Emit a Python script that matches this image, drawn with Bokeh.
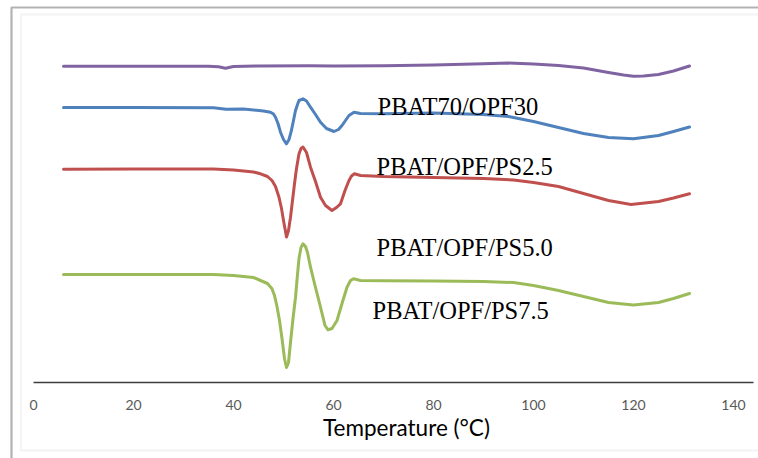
from bokeh.plotting import figure
from bokeh.models import Range1d, FixedTicker, BoxAnnotation, ColumnDataSource, LinearAxis
from bokeh.core.properties import value
from bokeh.embed import file_html
from bokeh.resources import INLINE

# ---- data (temperature in °C, heat flow in arbitrary units, curves offset) ----
t_ref = [6, 20, 35, 37, 38.4, 40, 45, 55, 60, 70, 80, 90, 95, 100, 105, 110, 115, 118, 120, 122, 125, 128, 131.2]
y_ref = [31.63, 31.63, 31.63, 31.57, 31.43, 31.60, 31.66, 31.68, 31.64, 31.67, 31.74, 31.88, 31.94,
         31.86, 31.70, 31.44, 31.00, 30.75, 30.63, 30.65, 30.80, 31.15, 31.65]

t_ps0 = [6, 20, 36, 38.5, 42, 46, 47.4, 48.0, 48.4, 48.9, 49.4, 50.0, 50.6, 51.1, 51.5, 52.0, 52.4,
         52.8, 53.1, 53.9, 54.6, 55.4, 56.4, 57.4, 58.6, 60.1, 61.0, 61.7, 62.4, 63.1, 64.1, 65.4,
         70, 80, 90, 95, 100, 105, 110, 115, 120, 125, 128, 131.2]
y_ps0 = [27.50, 27.50, 27.47, 27.33, 27.35, 27.15, 27.03, 26.85, 26.53, 25.90, 25.03, 24.30, 23.87,
         24.30, 25.03, 26.20, 27.20, 27.80, 28.20, 28.37, 28.15, 27.53, 26.80, 26.03, 25.40, 25.10,
         25.30, 25.70, 26.20, 26.70, 27.03, 26.90, 26.88, 26.95, 26.80, 26.60, 26.10, 25.50, 24.90,
         24.50, 24.37, 24.70, 25.10, 25.55]

t_ps25 = [6, 20, 36, 40, 44, 45.4, 46.8, 47.7, 48.4, 49.1, 49.6, 50.0, 50.6, 51.0, 51.4, 51.8, 52.2,
          52.6, 53.1, 53.5, 53.9, 54.6, 55.4, 56.4, 57.4, 58.4, 59.7, 60.6, 61.4, 62.3, 63.1, 63.6,
          64.2, 65.4, 70, 80, 90, 96, 100, 105, 110, 115, 119.5, 125, 128, 131.2]
y_ps25 = [21.33, 21.35, 21.35, 21.25, 21.05, 20.87, 20.60, 20.20, 19.60, 18.53, 17.40, 16.20, 14.55,
          15.20, 16.53, 18.20, 19.87, 21.40, 22.87, 23.40, 23.55, 23.00, 21.53, 20.10, 18.53, 17.70,
          17.20, 17.50, 17.87, 19.20, 20.20, 20.65, 20.87, 20.70, 20.60, 20.50, 20.40, 20.25, 20.00,
          19.60, 18.90, 18.20, 17.80, 18.10, 18.45, 18.87]

t_ps75 = [6, 20, 36, 40, 44, 45.4, 46.8, 47.7, 48.2, 48.7, 49.2, 49.7, 50.2, 50.6, 51.0, 51.4, 51.9,
          52.4, 52.8, 53.1, 53.5, 53.9, 54.4, 54.8, 55.4, 56.4, 57.4, 58.3, 58.9, 59.7, 60.7, 61.7,
          62.7, 63.4, 64.0, 65.4, 70, 80, 90, 96, 100, 105, 110, 115, 120, 125, 128, 131.2]
y_ps75 = [10.80, 10.80, 10.80, 10.70, 10.50, 10.20, 9.90, 9.37, 8.70, 7.60, 6.20, 4.40, 2.40, 1.50,
          2.00, 4.00, 6.40, 8.50, 10.80, 12.40, 13.50, 13.87, 13.60, 13.00, 11.53, 9.50, 7.53, 5.70,
          5.27, 5.40, 6.20, 7.90, 9.53, 10.20, 10.37, 10.20, 10.17, 10.15, 10.10, 10.00, 9.70, 9.20,
          8.60, 8.00, 7.75, 8.00, 8.40, 8.90]

label_texts = ["PBAT70/OPF30", "PBAT/OPF/PS2.5", "PBAT/OPF/PS5.0", "PBAT/OPF/PS7.5"]
label_t = [68.8, 68.6, 68.6, 67.8]
label_y = [27.65, 21.6, 13.5, 7.23]

x_ticks = [0, 20, 40, 60, 80, 100, 120, 140]
x_title = "Temperature (°C)"

colors = ["#8064A2", "#4F81BD", "#C0504D", "#9BBB59"]

p = figure(width=758, height=458, output_backend="svg", toolbar_location=None,
           x_range=Range1d(-6.6, 145.0), y_range=Range1d(-7.6, 38.2),
           y_axis_location=None,
           min_border_left=0, min_border_right=0, min_border_top=0, min_border_bottom=0)
p.background_fill_color = "white"
p.border_fill_color = "white"
p.outline_line_color = None
p.grid.visible = False

# decorative frames of the original figure
p.add_layout(BoxAnnotation(left=-4.4, right=300, top=37.5, bottom=-40,
                           fill_alpha=0, line_color="black", line_width=2.2))
p.add_layout(BoxAnnotation(left=-2.5, right=300, top=36.8, bottom=-6.8,
                           fill_alpha=0, line_color="#d6d6d6", line_width=1.8))

for t, y, c in [(t_ref, y_ref, colors[0]), (t_ps0, y_ps0, colors[1]),
                (t_ps25, y_ps25, colors[2]), (t_ps75, y_ps75, colors[3])]:
    p.line(t, y, line_color=c, line_width=3, line_join="round", line_cap="round")

src = ColumnDataSource(dict(x=label_t, y=label_y, text=label_texts))
p.text(x="x", y="y", text="text", source=src, text_font=value("Liberation Serif"),
       text_font_size="24.5px", text_color="black", text_align="left", text_baseline="alphabetic")

ax = p.xaxis[0]
ax.fixed_location = 0
ax.ticker = FixedTicker(ticks=x_ticks)
ax.bounds = (0, 143.9)
ax.axis_line_color = "#3c3c3c"
ax.axis_line_width = 1.5
ax.major_tick_out = 0
ax.major_tick_in = 0
ax.minor_tick_out = 0
ax.minor_tick_in = 0
ax.major_label_text_font = "Lato"
ax.major_label_text_font_size = "14px"
ax.major_label_text_color = "#595959"
ax.major_label_standoff = 17

# second (label-only) axis so that the title sits where it does in the original
tax = LinearAxis(fixed_location=0, ticker=FixedTicker(ticks=[]), bounds=(4.2, 145.0),
                 axis_line_color=None, major_tick_out=0, major_tick_in=0,
                 minor_tick_out=0, minor_tick_in=0, major_label_standoff=0,
                 axis_label=x_title, axis_label_text_font="Lato",
                 axis_label_text_font_size="22.5px", axis_label_text_font_style="normal",
                 axis_label_text_color="black", axis_label_standoff=31)
p.add_layout(tax, "below")

open("out.html", "w").write(file_html(p, INLINE))
